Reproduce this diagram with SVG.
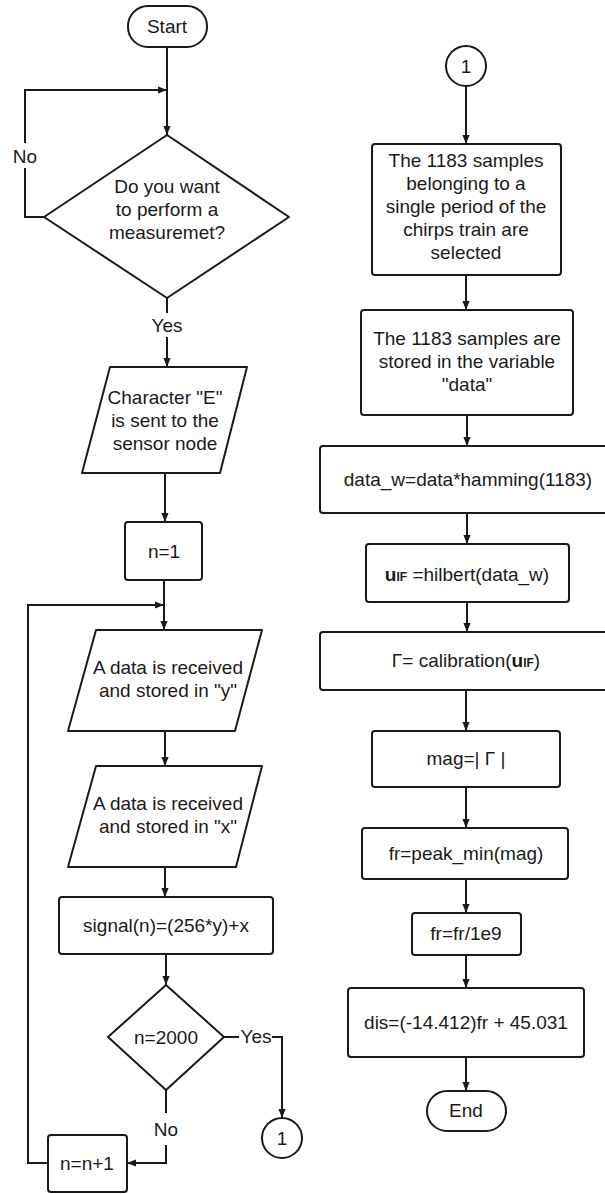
<svg xmlns="http://www.w3.org/2000/svg" width="605" height="1194" viewBox="0 0 605 1194">
<style>
.s{fill:#fff;stroke:#1a1a1a;stroke-width:2;stroke-linejoin:round}
.c{fill:none;stroke:#1a1a1a;stroke-width:2}
text{font-family:"Liberation Sans",Arial,sans-serif;font-size:19px;fill:#1a1a1a;text-anchor:middle;dominant-baseline:central}
.b{font-weight:bold}
.sub{font-weight:bold;font-size:12px}
</style>
<defs>
<marker id="ah" viewBox="0 0 10 8" markerWidth="9" markerHeight="8" refX="10" refY="4" orient="auto" markerUnits="userSpaceOnUse">
<path d="M0,0 L10,4 L0,8 z" fill="#1a1a1a"/>
</marker>
</defs>
<rect width="605" height="1194" fill="#fff"/>
<g id="connectors">
<path class="c" d="M167 47 V135" marker-end="url(#ah)"/>
<path class="c" d="M44 217 H25 V168 M25 143 V90 H167" marker-end="url(#ah)"/>
<path class="c" d="M167 298 V313 M167 337 V367" marker-end="url(#ah)"/>
<path class="c" d="M165 473 V522" marker-end="url(#ah)"/>
<path class="c" d="M164 580 V630" marker-end="url(#ah)"/>
<path class="c" d="M48 1163 H28 V605 H164" marker-end="url(#ah)"/>
<path class="c" d="M165 731 V766" marker-end="url(#ah)"/>
<path class="c" d="M165 867 V897" marker-end="url(#ah)"/>
<path class="c" d="M166 954 V985" marker-end="url(#ah)"/>
<path class="c" d="M224 1037 H239 M272 1037 H282 V1118" marker-end="url(#ah)"/>
<path class="c" d="M166 1090 V1113 M166 1145 V1163 H127" marker-end="url(#ah)"/>
<path class="c" d="M466 86 V144" marker-end="url(#ah)"/>
<path class="c" d="M466 275 V310" marker-end="url(#ah)"/>
<path class="c" d="M467 415 V446" marker-end="url(#ah)"/>
<path class="c" d="M467 513 V544" marker-end="url(#ah)"/>
<path class="c" d="M467 602 V632" marker-end="url(#ah)"/>
<path class="c" d="M466 690 V731" marker-end="url(#ah)"/>
<path class="c" d="M466 787 V828" marker-end="url(#ah)"/>
<path class="c" d="M466 879 V913" marker-end="url(#ah)"/>
<path class="c" d="M466 955 V988" marker-end="url(#ah)"/>
<path class="c" d="M466 1057 V1091" marker-end="url(#ah)"/>
<text x="25" y="156">No</text>
<text x="167" y="325">Yes</text>
<text x="256" y="1036">Yes</text>
<text x="166" y="1129">No</text>
</g>
<g id="start">
<rect class="s" x="128" y="6" width="79" height="41" rx="20"/>
<text x="167" y="26">Start</text>
</g>
<g id="decision1">
<polygon class="s" points="167,135 289,217 167,298 44,217"/>
<text x="167" y="186">Do you want</text>
<text x="167" y="209">to perform a</text>
<text x="167" y="232">measuremet?</text>
</g>
<g id="sendE">
<polygon class="s" points="110,367 247,367 220,473 82,473"/>
<text x="165" y="397">Character "E"</text>
<text x="165" y="420">is sent to the</text>
<text x="165" y="443">sensor node</text>
</g>
<g id="n1">
<rect class="s" x="125" y="522" width="77" height="58" rx="3"/>
<text x="164" y="551">n=1</text>
</g>
<g id="recvY">
<polygon class="s" points="96,630 262,630 235,731 68,731"/>
<text x="168" y="667">A data is received</text>
<text x="168" y="690">and stored in "y"</text>
</g>
<g id="recvX">
<polygon class="s" points="96,766 262,766 236,867 68,867"/>
<text x="168" y="803">A data is received</text>
<text x="168" y="826">and stored in "x"</text>
</g>
<g id="signal">
<rect class="s" x="59" y="897" width="214" height="57" rx="3"/>
<text x="166" y="925">signal(n)=(256*y)+x</text>
</g>
<g id="decision2">
<polygon class="s" points="166,985 224,1037 166,1090 108,1037"/>
<text x="166" y="1037">n=2000</text>
</g>
<g id="connectorA">
<circle class="s" cx="282" cy="1138" r="20"/>
<text x="282" y="1138">1</text>
</g>
<g id="increment">
<rect class="s" x="48" y="1135" width="79" height="57" rx="3"/>
<text x="87" y="1163">n=n+1</text>
</g>
<g id="connectorB">
<circle class="s" cx="466" cy="66" r="20"/>
<text x="466" y="66">1</text>
</g>
<g id="select">
<rect class="s" x="372" y="144" width="189" height="131" rx="3"/>
<text x="466" y="160">The 1183 samples</text>
<text x="466" y="183">belonging to a</text>
<text x="466" y="206">single period of the</text>
<text x="466" y="229">chirps train are</text>
<text x="466" y="252">selected</text>
</g>
<g id="store">
<rect class="s" x="361" y="310" width="212" height="105" rx="3"/>
<text x="467" y="338">The 1183 samples are</text>
<text x="467" y="361">stored in the variable</text>
<text x="467" y="384">"data"</text>
</g>
<g id="window">
<rect class="s" x="320" y="446" width="295" height="67" rx="3"/>
<text x="468" y="479">data_w=data*hamming(1183)</text>
</g>
<g id="hilbert">
<rect class="s" x="366" y="544" width="203" height="58" rx="3"/>
<text x="467" y="574"><tspan class="b">u</tspan><tspan class="sub" dy="3">IF</tspan><tspan dy="-3"> =hilbert(data_w)</tspan></text>
</g>
<g id="calibration">
<rect class="s" x="320" y="632" width="295" height="58" rx="3"/>
<text x="466" y="660">Γ= calibration(<tspan class="b">u</tspan><tspan class="sub" dy="3">IF</tspan><tspan dy="-3">)</tspan></text>
</g>
<g id="mag">
<rect class="s" x="372" y="731" width="188" height="56" rx="3"/>
<text x="466" y="758">mag=| Γ |</text>
</g>
<g id="peak">
<rect class="s" x="362" y="828" width="206" height="51" rx="3"/>
<text x="466" y="853">fr=peak_min(mag)</text>
</g>
<g id="scale">
<rect class="s" x="412" y="913" width="109" height="42" rx="3"/>
<text x="466" y="933">fr=fr/1e9</text>
</g>
<g id="distance">
<rect class="s" x="348" y="988" width="236" height="69" rx="3"/>
<text x="466" y="1022">dis=(-14.412)fr + 45.031</text>
</g>
<g id="end">
<rect class="s" x="427" y="1091" width="79" height="40" rx="20"/>
<text x="466" y="1110">End</text>
</g>
</svg>
